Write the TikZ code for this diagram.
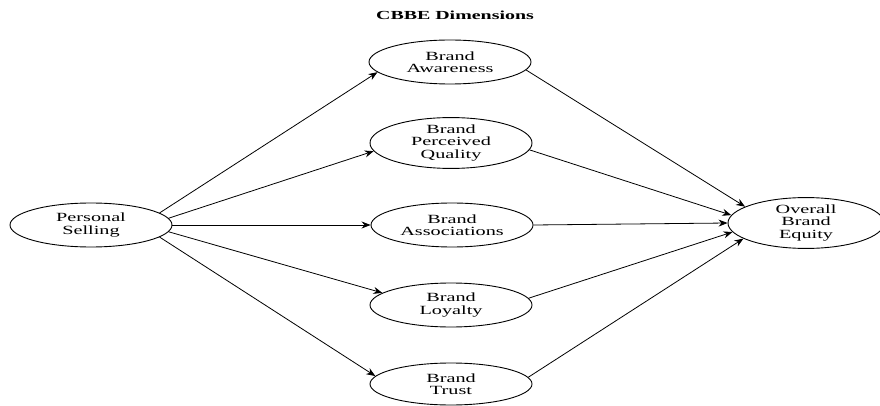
\documentclass[tikz,border=0pt]{standalone}
\usepackage{fontspec}
\setmainfont[FakeStretch=1.62]{Liberation Serif}
\usepackage{tikz}
\usetikzlibrary{arrows.meta,positioning,shapes}

\begin{document}
\begin{tikzpicture}[x = 1pt, y = -1pt,
  dim/.style = {ellipse, draw, line width = .9pt, minimum width = 162pt, minimum height = 44pt,
    inner sep = 0pt, align = center, font = \fontsize{12.5}{12.3}\selectfont},
  arr/.style = {-{Stealth[length = 9pt, width = 7pt]}, line width = .8pt}]
\useasboundingbox (0,0) rectangle (880,406);
\node[font = \fontsize{12.3}{14}\selectfont\bfseries] (title) at (455,15) {CBBE Dimensions};
\node[dim, minimum height = 44pt] (ps) at (91,225) {Personal\\Selling};
\node[dim] (aw) at (450,62) {Brand\\Awareness};
\node[dim] (pq) at (451,143) {Brand\\Perceived\\Quality};
\node[dim] (as) at (452,225) {Brand\\Associations};
\node[dim] (lo) at (451,305) {Brand\\Loyalty};
\node[dim, minimum height = 42pt] (tr) at (451,384) {Brand\\Trust};
\node[dim, minimum width = 156pt, minimum height = 44pt] (eq) at (806,223) {Overall\\Brand\\Equity};
% personal selling to the dimensions
\foreach \d/\s/\t in {aw/10/188, pq/5/186, as/0/180, lo/-5/170, tr/-10/174}
  \draw[arr] (ps.\s) -- (\d.\t);
% dimensions to brand equity
\foreach \d/\s/\t in {aw/-6/165, pq/-5/174, as/0/180, lo/5/187, tr/5/194}
  \draw[arr] (\d.\s) -- (eq.\t);
\end{tikzpicture}
\end{document}
